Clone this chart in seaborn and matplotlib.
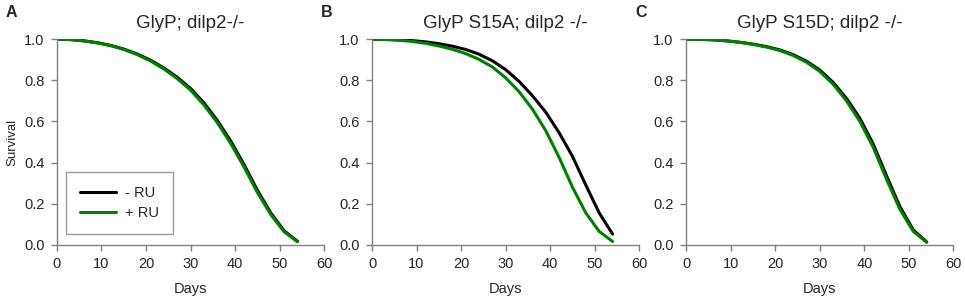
import matplotlib
matplotlib.use("Agg")
import matplotlib.pyplot as plt
import seaborn as sns
import numpy as np
import pandas as pd

# survival curves (every 3 days)
days = [0, 3, 6, 9, 12, 15, 18, 21, 24, 27, 30, 33, 36, 39, 42, 45, 48, 51, 54]

a_minus = [1.0, 0.998, 0.992, 0.983, 0.970, 0.952, 0.928, 0.898, 0.860, 0.815, 0.760, 0.690, 0.605, 0.505, 0.390, 0.265, 0.155, 0.068, 0.017]
a_plus = [1.0, 0.998, 0.992, 0.982, 0.969, 0.950, 0.925, 0.894, 0.855, 0.808, 0.752, 0.680, 0.594, 0.493, 0.378, 0.254, 0.147, 0.063, 0.015]
b_minus = [1.0, 0.999, 0.997, 0.993, 0.987, 0.978, 0.966, 0.950, 0.927, 0.895, 0.852, 0.795, 0.725, 0.645, 0.545, 0.430, 0.290, 0.155, 0.052]
b_plus = [1.0, 0.998, 0.995, 0.989, 0.980, 0.967, 0.951, 0.930, 0.902, 0.865, 0.812, 0.745, 0.660, 0.555, 0.425, 0.280, 0.155, 0.065, 0.016]
c_minus = [1.0, 0.999, 0.997, 0.992, 0.985, 0.976, 0.964, 0.948, 0.925, 0.893, 0.850, 0.790, 0.712, 0.615, 0.490, 0.335, 0.185, 0.072, 0.014]
c_plus = [1.0, 0.999, 0.997, 0.992, 0.985, 0.975, 0.962, 0.945, 0.921, 0.888, 0.843, 0.781, 0.700, 0.600, 0.474, 0.318, 0.172, 0.065, 0.012]

titles = ["GlyP; dilp2-/-", "GlyP S15A; dilp2 -/-", "GlyP S15D; dilp2 -/-"]
letters = ["A", "B", "C"]
groups = ["- RU", "+ RU"]
panels = [(a_minus, a_plus), (b_minus, b_plus), (c_minus, c_plus)]

sns.set_style("white")
plt.rcParams["font.family"] = ["Liberation Sans", "DejaVu Sans"]

fig = plt.figure(figsize=(9.65, 3.06), dpi=100)
lefts = [0.059, 0.3855, 0.711]
palette = {"- RU": "black", "+ RU": "#008000"}

for i, (mn, pl) in enumerate(panels):
    ax = fig.add_axes([lefts[i], 0.2, 0.277, 0.672])
    df = pd.DataFrame({
        "Days": days * 2,
        "Survival": mn + pl,
        "group": [groups[0]] * len(days) + [groups[1]] * len(days),
    })
    sns.lineplot(data=df, x="Days", y="Survival", hue="group", palette=palette,
                 linewidth=2.2, ax=ax, legend=(i == 0))
    ax.set_xlim(0, 60)
    ax.set_ylim(0, 1.0)
    ax.set_xticks(range(0, 61, 10))
    ax.set_yticks([0, 0.2, 0.4, 0.6, 0.8, 1.0])
    ax.set_yticklabels(["0.0", "0.2", "0.4", "0.6", "0.8", "1.0"])
    for s in ["top", "right"]:
        ax.spines[s].set_visible(False)
    for s in ["left", "bottom"]:
        ax.spines[s].set_color("#808080")
        ax.spines[s].set_linewidth(1)
    ax.tick_params(axis="both", which="both", direction="out", length=4, width=1,
                   color="#808080", labelsize=10.5, pad=5, bottom=True, left=True)
    ax.set_xlabel("Days", fontsize=10.5, labelpad=8)
    if i == 0:
        ax.set_ylabel("Survival", fontsize=9.5, labelpad=4)
        leg = ax.legend(loc="lower left", bbox_to_anchor=(0.033, 0.054), borderaxespad=0,
                        fontsize=10.5, frameon=True, fancybox=False, edgecolor="#808080",
                        handlelength=2.5, handletextpad=0.6, borderpad=0.95,
                        labelspacing=0.4)
        leg.get_frame().set_linewidth(1)
        leg.set_title(None)
    else:
        ax.set_ylabel("")
    ax.set_title(titles[i], fontsize=13.5, pad=8)
    fig.text(lefts[i] - 0.053, 0.945, letters[i], fontsize=11.5, fontweight="bold")

fig.savefig("out.png", dpi=100)
